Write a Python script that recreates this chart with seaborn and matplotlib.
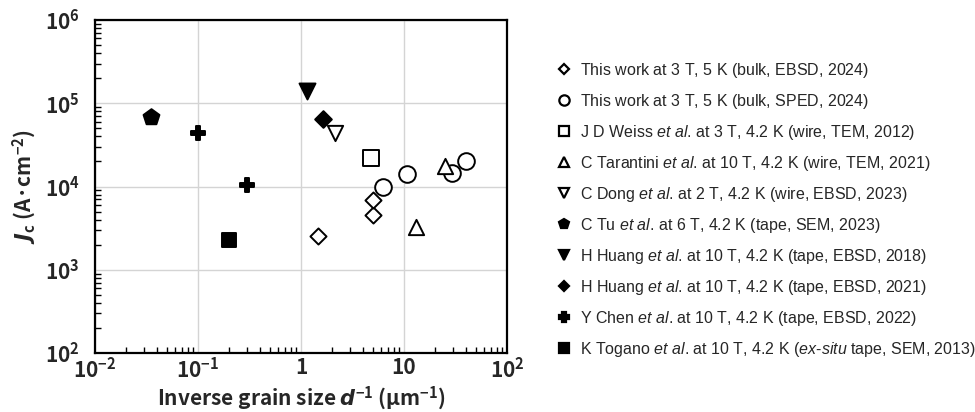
import numpy as np
import pandas as pd
import matplotlib
matplotlib.use("Agg")
import matplotlib.pyplot as plt
import seaborn as sns
from matplotlib.lines import Line2D

# series
labels = [
    r"This work at 3 T, 5 K (bulk, EBSD, 2024)$\,$",
    r"This work at 3 T, 5 K (bulk, SPED, 2024)$\,$",
    r"J D Weiss $\mathit{et\ al}$. at 3 T, 4.2 K (wire, TEM, 2012)",
    r"C Tarantini $\mathit{et\ al}$. at 10 T, 4.2 K (wire, TEM, 2021)",
    r"C Dong $\mathit{et\ al}$. at 2 T, 4.2 K (wire, EBSD, 2023)",
    r"C Tu $\mathit{et\ al}$. at 6 T, 4.2 K (tape, SEM, 2023)",
    r"H Huang $\mathit{et\ al}$. at 10 T, 4.2 K (tape, EBSD, 2018)",
    r"H Huang $\mathit{et\ al}$. at 10 T, 4.2 K (tape, EBSD, 2021)",
    r"Y Chen $\mathit{et\ al}$. at 10 T, 4.2 K (tape, EBSD, 2022)",
    r"K Togano $\mathit{et\ al}$. at 10 T, 4.2 K ($\mathit{ex}$-$\mathit{situ}$ tape, SEM, 2013)",
]
inv_d = [
    [1.47, 5.0, 5.0],
    [6.2, 10.8, 29.0, 40.0],
    [4.8],
    [13.1, 25.0],
    [2.14],
    [0.035],
    [1.14],
    [1.62],
    [0.1, 0.3],
    [0.2],
]
jc = [
    [2550, 4500, 6900],
    [9800, 14300, 14400, 20000],
    [22000],
    [3300, 17400],
    [44000],
    [69000],
    [140000],
    [65000],
    [44000, 10500],
    [2250],
]
markers = ["D", "o", "s", "^", "v", "p", "v", "D", "P", "s"]
filled = [False, False, False, False, False, True, True, True, True, True]
msizes = [8.2, 12, 11, 11, 11, 12, 11.5, 8.5, 10.5, 10.5]

xtick_vals = [0.01, 0.1, 1, 10, 100]
xtick_labels = [r"$\mathdefault{10^{-2}}$", r"$\mathdefault{10^{-1}}$", "1", "10",
                r"$\mathdefault{10^{2}}$"]

sns.set_style("white")
plt.rcParams["font.family"] = ["Noto Sans CJK JP", "DejaVu Sans"]
plt.rcParams["mathtext.fontset"] = "custom"
plt.rcParams["mathtext.it"] = "Liberation Sans:italic"
plt.rcParams["mathtext.bfit"] = "DejaVu Sans:italic:bold"

fig = plt.figure(figsize=(9.75, 4.12), dpi=100)
ax = fig.add_axes([95 / 975, 1 - 353 / 412, 412 / 975, 333 / 412])

for i in range(len(labels)):
    df = pd.DataFrame({"x": inv_d[i], "y": jc[i]})
    sns.scatterplot(data=df, x="x", y="y", marker=markers[i], s=msizes[i] ** 2,
                    facecolor="black" if filled[i] else "white",
                    edgecolor="black", linewidth=1.4, ax=ax, zorder=3)

ax.set_xscale("log")
ax.set_yscale("log")
ax.set_xlim(1e-2, 1e2)
ax.set_ylim(1e2, 1e6)
ax.set_xticks(xtick_vals)
ax.set_xticklabels(xtick_labels)
ax.grid(True, which="major", color="#d4d4d4", linewidth=1)
ax.tick_params(which="both", direction="in", bottom=True, left=True, top=False, right=False)
ax.tick_params(which="major", length=0, labelsize=15)
ax.tick_params(axis="x", which="major", pad=3)
ax.tick_params(axis="y", which="major", pad=11)
ax.tick_params(which="minor", length=4, width=1, color="black")
for lab in ax.get_xticklabels() + ax.get_yticklabels():
    lab.set_fontweight("bold")
for sp in ax.spines.values():
    sp.set_color("black")
    sp.set_linewidth(1.6)
    sp.set_visible(True)

ax.set_xlabel(r"Inverse grain size $\mathbfit{d}^{\mathdefault{-1}}$ (µm$^{\mathdefault{-1}}$)",
              fontsize=15, fontweight="bold", labelpad=1)
ax.set_ylabel(r"$\mathbfit{J}_{\mathdefault{c}}$ (A·cm$^{\mathdefault{-2}}$)",
              fontsize=15, fontweight="bold", labelpad=5)

handles = []
for i in range(len(labels)):
    handles.append(Line2D([], [], linestyle="none", marker=markers[i],
                          markersize=msizes[i] * 0.62,
                          markerfacecolor="black" if filled[i] else "white",
                          markeredgecolor="black", markeredgewidth=1.6))
fig.legend(handles, labels, loc="upper left", bbox_to_anchor=(556 / 975, 1 - 61 / 412),
           frameon=False, borderpad=0, borderaxespad=0, handlelength=1.0,
           handletextpad=0.5, labelspacing=0.75,
           prop={"family": "Liberation Sans", "size": 11.5})

fig.savefig("out.png", dpi=100)
